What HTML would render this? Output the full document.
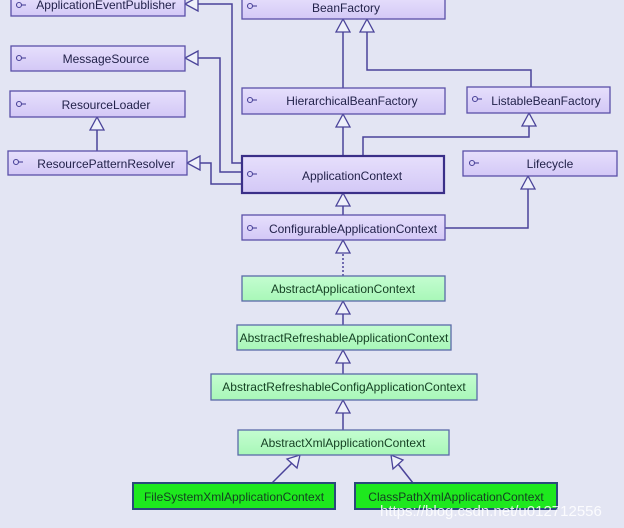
<!DOCTYPE html>
<html><head><style>
body{margin:0;width:624px;height:528px;overflow:hidden;background:#e3e5f3;font-family:"Liberation Sans",Arial,sans-serif;}
</style></head><body>
<svg width="624" height="528" xmlns="http://www.w3.org/2000/svg" style="position:absolute;left:0;top:0">
<defs>
<linearGradient id="p" x1="0" y1="0" x2="0" y2="1"><stop offset="0" stop-color="#e6dffc"/><stop offset="1" stop-color="#d3c8f6"/></linearGradient>
<linearGradient id="g" x1="0" y1="0" x2="0" y2="1"><stop offset="0" stop-color="#c4fdd0"/><stop offset="1" stop-color="#a8f7b8"/></linearGradient>
</defs>
<rect width="624" height="528" fill="#e3e5f3"/>
<g fill="none" stroke="#4a4399" stroke-width="1.5">
<polyline points="242,163 232,163 232,4 198,4"/>
<polyline points="242,172 220,172 220,58 198,58"/>
<polyline points="242,184 211,184 211,163 200,163"/>
<line x1="97" y1="151" x2="97" y2="130"/>
<line x1="343" y1="88" x2="343" y2="32"/>
<polyline points="531,87 531,70 367,70 367,32"/>
<line x1="343" y1="156" x2="343" y2="127"/>
<polyline points="363,156 363,137 529,137 529,126"/>
<line x1="343" y1="215" x2="343" y2="206"/>
<polyline points="445,228 528,228 528,189"/>
<line x1="343" y1="276" x2="343" y2="253" stroke-dasharray="2,2"/>
<line x1="343" y1="325" x2="343" y2="314"/>
<line x1="343" y1="374" x2="343" y2="363"/>
<line x1="343" y1="430" x2="343" y2="413"/>
<line x1="272" y1="483" x2="292" y2="463"/>
<line x1="413" y1="483" x2="398" y2="464"/>
</g>
<g fill="#eef0fa" stroke="#4a4399" stroke-width="1.3">
<polygon points="185,4 198,-3 198,11"/>
<polygon points="185,58 198,51 198,65"/>
<polygon points="187,163 200,156 200,170"/>
<polygon points="97,117 90,130 104,130"/>
<polygon points="343,19 336,32 350,32"/>
<polygon points="367,19 360,32 374,32"/>
<polygon points="343,114 336,127 350,127"/>
<polygon points="529,113 522,126 536,126"/>
<polygon points="343,193 336,206 350,206"/>
<polygon points="528,176 521,189 535,189"/>
<polygon points="343,240 336,253 350,253"/>
<polygon points="343,301 336,314 350,314"/>
<polygon points="343,350 336,363 350,363"/>
<polygon points="343,400 336,413 350,413"/>
<polygon points="300,455 287,459 297,468"/>
<polygon points="391,455 393,469 403,460"/>
</g>
<g stroke="#5a50a8" stroke-width="1.3" fill="url(#p)">
<rect x="11" y="-3" width="174" height="19"/>
<rect x="11" y="46" width="174" height="25"/>
<rect x="10" y="91" width="175" height="26"/>
<rect x="8" y="151" width="179" height="24"/>
<rect x="242" y="-3" width="203" height="22"/>
<rect x="242" y="88" width="203" height="26"/>
<rect x="467" y="87" width="143" height="26"/>
<rect x="463" y="151" width="154" height="25"/>
<rect x="242" y="215" width="203" height="25"/>
<rect x="242" y="156" width="202" height="37" stroke="#3a2f88" stroke-width="2.2"/>
</g>
<g stroke="#5a6aa8" stroke-width="1.3" fill="url(#g)">
<rect x="242" y="276" width="203" height="25"/>
<rect x="237" y="325" width="214" height="25"/>
<rect x="211" y="374" width="266" height="26"/>
<rect x="238" y="430" width="211" height="25"/>
</g>
<g stroke="#2a4a7a" stroke-width="2" fill="#1ee81e">
<rect x="133" y="483" width="202" height="26"/>
<rect x="355" y="483" width="202" height="26"/>
</g>
<g stroke="#4a4399" stroke-width="1.1" fill="none">
<circle cx="19" cy="5" r="2.5"/><line x1="21.5" y1="5" x2="26" y2="5"/>
<circle cx="19" cy="58" r="2.5"/><line x1="21.5" y1="58" x2="26" y2="58"/>
<circle cx="19" cy="104" r="2.5"/><line x1="21.5" y1="104" x2="26" y2="104"/>
<circle cx="16" cy="162" r="2.5"/><line x1="18.5" y1="162" x2="23" y2="162"/>
<circle cx="250" cy="6" r="2.5"/><line x1="252.5" y1="6" x2="257" y2="6"/>
<circle cx="250" cy="100" r="2.5"/><line x1="252.5" y1="100" x2="257" y2="100"/>
<circle cx="475" cy="99" r="2.5"/><line x1="477.5" y1="99" x2="482" y2="99"/>
<circle cx="472" cy="163" r="2.5"/><line x1="474.5" y1="163" x2="479" y2="163"/>
<circle cx="250" cy="174" r="2.5"/><line x1="252.5" y1="174" x2="257" y2="174"/>
<circle cx="250" cy="228" r="2.5"/><line x1="252.5" y1="228" x2="257" y2="228"/>
</g>
<g font-size="12" fill="#22224a" text-anchor="middle">
<text x="106" y="9">ApplicationEventPublisher</text>
<text x="106" y="63">MessageSource</text>
<text x="106" y="109">ResourceLoader</text>
<text x="106" y="168">ResourcePatternResolver</text>
<text x="346" y="12">BeanFactory</text>
<text x="352" y="105">HierarchicalBeanFactory</text>
<text x="546" y="105">ListableBeanFactory</text>
<text x="550" y="168">Lifecycle</text>
<text x="352" y="180">ApplicationContext</text>
<text x="353" y="233">ConfigurableApplicationContext</text>
</g>
<g font-size="12" fill="#143f22" text-anchor="middle">
<text x="343" y="293">AbstractApplicationContext</text>
<text x="344" y="342">AbstractRefreshableApplicationContext</text>
<text x="344" y="391">AbstractRefreshableConfigApplicationContext</text>
<text x="343" y="447">AbstractXmlApplicationContext</text>
<text x="234" y="501">FileSystemXmlApplicationContext</text>
<text x="456" y="501">ClassPathXmlApplicationContext</text>
</g>
<text x="380" y="516" font-size="15" fill="#ffffff" fill-opacity="0.85">https://blog.csdn.net/u012712556</text>
</svg>
</body></html>
